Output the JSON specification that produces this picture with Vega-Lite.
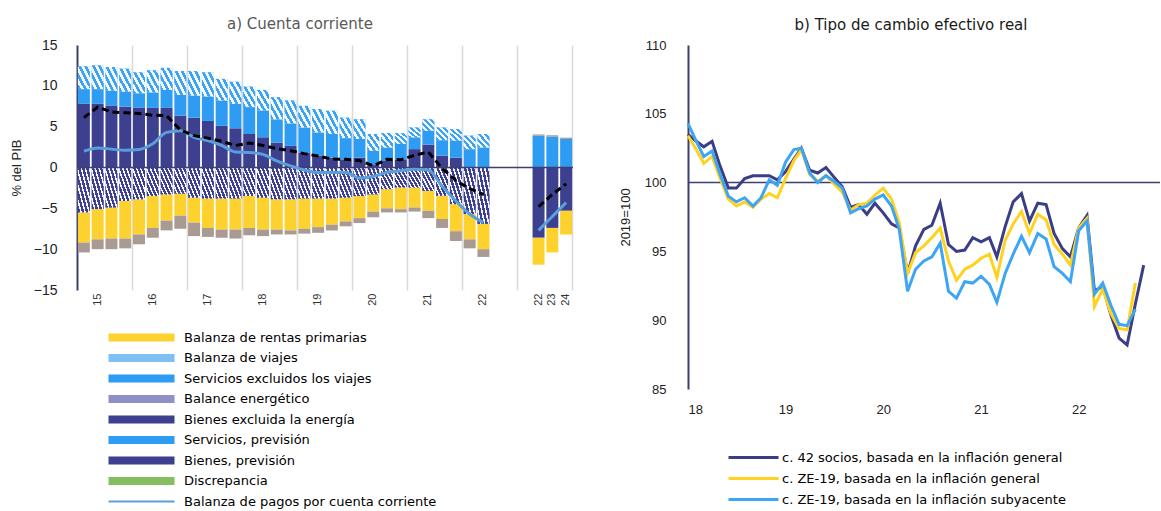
{
  "$schema": "https://vega.github.io/schema/vega-lite/v6.json",
  "background": "white",
  "padding": {"left": 10, "top": 17, "right": 0, "bottom": 0},
  "spacing": 45,
  "resolve": {"scale": {"color": "independent"}, "legend": {"color": "independent"}},
  "config": {
    "view": {"stroke": null},
    "font": "DejaVu Sans",
    "axis": {"labelFont": "Liberation Sans", "titleFont": "Liberation Sans", "titleFontWeight": "normal"},
    "legend": {"padding": 0, "labelFont": "DejaVu Sans", "labelLimit": 500}
  },
  "datasets": {
    "cuenta": [
      {"q": "2015Q1", "grp": "h", "1bien": 7.8, "4serv": 1.8, "7viaj": 2.8, "3ener": -5.5, "6rent": -3.7, "8rsec": -1.2, "cc": 2.0, "tot": 6.1},
      {"q": "2015Q2", "grp": "h", "1bien": 7.8, "4serv": 1.8, "7viaj": 2.9, "3ener": -5.1, "6rent": -3.7, "8rsec": -1.2, "cc": 2.4, "tot": 7.4},
      {"q": "2015Q3", "grp": "h", "1bien": 7.6, "4serv": 1.8, "7viaj": 2.9, "3ener": -4.9, "6rent": -3.8, "8rsec": -1.3, "cc": 2.25, "tot": 6.8},
      {"q": "2015Q4", "grp": "h", "1bien": 7.45, "4serv": 1.85, "7viaj": 2.8, "3ener": -4.1, "6rent": -4.6, "8rsec": -1.2, "cc": 2.1, "tot": 6.7},
      {"q": "2016Q1", "grp": "h", "1bien": 7.3, "4serv": 1.8, "7viaj": 2.55, "3ener": -3.9, "6rent": -4.3, "8rsec": -1.2, "cc": 2.2, "tot": 6.6},
      {"q": "2016Q2", "grp": "h", "1bien": 7.3, "4serv": 1.9, "7viaj": 2.7, "3ener": -3.5, "6rent": -3.9, "8rsec": -1.2, "cc": 2.9, "tot": 6.4},
      {"q": "2016Q3", "grp": "h", "1bien": 7.3, "4serv": 2.2, "7viaj": 2.7, "3ener": -3.3, "6rent": -3.2, "8rsec": -1.2, "cc": 4.3, "tot": 6.35},
      {"q": "2016Q4", "grp": "h", "1bien": 6.35, "4serv": 2.55, "7viaj": 2.9, "3ener": -3.2, "6rent": -2.7, "8rsec": -1.6, "cc": 4.5, "tot": 4.6},
      {"q": "2017Q1", "grp": "h", "1bien": 6.1, "4serv": 2.7, "7viaj": 3.0, "3ener": -3.7, "6rent": -3.05, "8rsec": -1.65, "cc": 3.7, "tot": 3.9},
      {"q": "2017Q2", "grp": "h", "1bien": 5.7, "4serv": 3.0, "7viaj": 2.95, "3ener": -3.8, "6rent": -3.6, "8rsec": -1.1, "cc": 3.3, "tot": 3.6},
      {"q": "2017Q3", "grp": "h", "1bien": 5.1, "4serv": 3.1, "7viaj": 2.65, "3ener": -3.8, "6rent": -3.8, "8rsec": -1.0, "cc": 2.7, "tot": 3.2},
      {"q": "2017Q4", "grp": "h", "1bien": 4.8, "4serv": 3.0, "7viaj": 2.7, "3ener": -3.8, "6rent": -3.8, "8rsec": -1.1, "cc": 1.9, "tot": 2.7},
      {"q": "2018Q1", "grp": "h", "1bien": 4.1, "4serv": 3.3, "7viaj": 2.5, "3ener": -3.5, "6rent": -3.9, "8rsec": -0.9, "cc": 1.85, "tot": 3.0},
      {"q": "2018Q2", "grp": "h", "1bien": 3.7, "4serv": 3.3, "7viaj": 2.5, "3ener": -3.7, "6rent": -3.9, "8rsec": -0.8, "cc": 1.6, "tot": 2.7},
      {"q": "2018Q3", "grp": "h", "1bien": 3.05, "4serv": 2.85, "7viaj": 2.7, "3ener": -3.9, "6rent": -3.7, "8rsec": -0.6, "cc": 0.8, "tot": 2.3},
      {"q": "2018Q4", "grp": "h", "1bien": 2.65, "4serv": 2.75, "7viaj": 2.8, "3ener": -3.9, "6rent": -3.8, "8rsec": -0.5, "cc": 0.2, "tot": 2.05},
      {"q": "2019Q1", "grp": "h", "1bien": 1.85, "4serv": 3.05, "7viaj": 2.65, "3ener": -3.8, "6rent": -3.7, "8rsec": -0.6, "cc": -0.3, "tot": 1.7},
      {"q": "2019Q2", "grp": "h", "1bien": 1.45, "4serv": 2.85, "7viaj": 2.85, "3ener": -3.8, "6rent": -3.5, "8rsec": -0.7, "cc": -0.6, "tot": 1.4},
      {"q": "2019Q3", "grp": "h", "1bien": 1.2, "4serv": 2.9, "7viaj": 2.85, "3ener": -3.8, "6rent": -3.2, "8rsec": -0.7, "cc": -0.6, "tot": 1.05},
      {"q": "2019Q4", "grp": "h", "1bien": 1.0, "4serv": 2.6, "7viaj": 2.5, "3ener": -3.7, "6rent": -2.9, "8rsec": -0.6, "cc": -0.6, "tot": 1.0},
      {"q": "2020Q1", "grp": "h", "1bien": 1.2, "4serv": 2.3, "7viaj": 2.4, "3ener": -3.5, "6rent": -2.7, "8rsec": -0.6, "cc": -1.3, "tot": 0.85},
      {"q": "2020Q2", "grp": "h", "1bien": 0.3, "4serv": 1.75, "7viaj": 2.05, "3ener": -3.3, "6rent": -2.1, "8rsec": -0.7, "cc": -1.1, "tot": 0.2},
      {"q": "2020Q3", "grp": "h", "1bien": 0.8, "4serv": 1.65, "7viaj": 1.75, "3ener": -2.65, "6rent": -2.35, "8rsec": -0.5, "cc": -0.6, "tot": 1.0},
      {"q": "2020Q4", "grp": "h", "1bien": 1.0, "4serv": 1.9, "7viaj": 1.3, "3ener": -2.45, "6rent": -2.65, "8rsec": -0.4, "cc": -0.4, "tot": 0.95},
      {"q": "2021Q1", "grp": "h", "1bien": 2.25, "4serv": 1.45, "7viaj": 1.2, "3ener": -2.45, "6rent": -2.45, "8rsec": -0.5, "cc": -0.2, "tot": 1.5},
      {"q": "2021Q2", "grp": "h", "1bien": 2.8, "4serv": 1.7, "7viaj": 1.4, "3ener": -2.86, "6rent": -2.44, "8rsec": -0.9, "cc": -0.3, "tot": 1.9},
      {"q": "2021Q3", "grp": "h", "1bien": 1.45, "4serv": 1.9, "7viaj": 1.55, "3ener": -3.47, "6rent": -2.83, "8rsec": -1.1, "cc": -2.3, "tot": -0.1},
      {"q": "2021Q4", "grp": "h", "1bien": 1.2, "4serv": 2.1, "7viaj": 1.4, "3ener": -4.49, "6rent": -3.31, "8rsec": -1.2, "cc": -4.1, "tot": -1.6},
      {"q": "2022Q1", "grp": "h", "1bien": 0, "4serv": 2.25, "7viaj": 1.65, "3ener": -5.7, "6rent": -3.1, "8rsec": -1.1, "cc": -5.7, "tot": -2.6},
      {"q": "2022Q2", "grp": "h", "1bien": 0, "4serv": 2.45, "7viaj": 1.65, "3ener": -6.9, "6rent": -3.1, "8rsec": -0.95, "cc": -6.75, "tot": -3.3},
      {"q": "2022A", "grp": "p", "5sprev": 3.9, "2bprev": -8.6, "6rent": -3.3, "8rsec": 0.15, "cc": -7.7, "tot": -4.8},
      {"q": "2023A", "grp": "p", "5sprev": 3.8, "2bprev": -7.4, "6rent": -3.0, "8rsec": 0.15, "cc": -6.0, "tot": -3.3},
      {"q": "2024A", "grp": "p", "5sprev": 3.5, "2bprev": -5.3, "6rent": -2.9, "8rsec": 0.15, "cc": -4.3, "tot": -2.0}
    ],
    "tcer": [
      {"fecha": "2018-01-01", "s42": 103.5, "zeg": 103.4, "zes": 104.3},
      {"fecha": "2018-02-01", "s42": 103.0, "zeg": 102.4, "zes": 103.0},
      {"fecha": "2018-03-01", "s42": 102.6, "zeg": 101.4, "zes": 101.9},
      {"fecha": "2018-04-01", "s42": 103.0, "zeg": 101.9, "zes": 102.3},
      {"fecha": "2018-05-01", "s42": 101.2, "zeg": 100.3, "zes": 100.6},
      {"fecha": "2018-06-01", "s42": 99.6, "zeg": 98.8, "zes": 99.0},
      {"fecha": "2018-07-01", "s42": 99.6, "zeg": 98.3, "zes": 98.6},
      {"fecha": "2018-08-01", "s42": 100.3, "zeg": 98.6, "zes": 98.9},
      {"fecha": "2018-09-01", "s42": 100.5, "zeg": 98.2, "zes": 98.3},
      {"fecha": "2018-10-01", "s42": 100.5, "zeg": 98.8, "zes": 98.9},
      {"fecha": "2018-11-01", "s42": 100.5, "zeg": 99.2, "zes": 100.2},
      {"fecha": "2018-12-01", "s42": 100.2, "zeg": 98.9, "zes": 99.8},
      {"fecha": "2019-01-01", "s42": 100.8, "zeg": 100.3, "zes": 101.5},
      {"fecha": "2019-02-01", "s42": 101.7, "zeg": 101.6, "zes": 102.4},
      {"fecha": "2019-03-01", "s42": 102.5, "zeg": 102.4, "zes": 102.5},
      {"fecha": "2019-04-01", "s42": 100.9, "zeg": 100.6, "zes": 100.7},
      {"fecha": "2019-05-01", "s42": 100.7, "zeg": 100.1, "zes": 100.0},
      {"fecha": "2019-06-01", "s42": 101.1, "zeg": 100.5, "zes": 100.5},
      {"fecha": "2019-07-01", "s42": 100.4, "zeg": 99.9, "zes": 100.1},
      {"fecha": "2019-08-01", "s42": 99.7, "zeg": 99.3, "zes": 99.6},
      {"fecha": "2019-09-01", "s42": 98.2, "zeg": 98.0, "zes": 97.8},
      {"fecha": "2019-10-01", "s42": 98.4, "zeg": 98.4, "zes": 98.1},
      {"fecha": "2019-11-01", "s42": 97.7, "zeg": 98.5, "zes": 98.3},
      {"fecha": "2019-12-01", "s42": 98.5, "zeg": 99.1, "zes": 98.8},
      {"fecha": "2020-01-01", "s42": 97.8, "zeg": 99.6, "zes": 99.1},
      {"fecha": "2020-02-01", "s42": 97.0, "zeg": 98.8, "zes": 98.3},
      {"fecha": "2020-03-01", "s42": 96.7, "zeg": 97.1, "zes": 96.6},
      {"fecha": "2020-04-01", "s42": 93.4, "zeg": 93.4, "zes": 92.1},
      {"fecha": "2020-05-01", "s42": 95.4, "zeg": 94.9, "zes": 93.7},
      {"fecha": "2020-06-01", "s42": 96.6, "zeg": 95.4, "zes": 94.3},
      {"fecha": "2020-07-01", "s42": 96.9, "zeg": 96.0, "zes": 94.6},
      {"fecha": "2020-08-01", "s42": 98.5, "zeg": 96.7, "zes": 95.6},
      {"fecha": "2020-09-01", "s42": 95.5, "zeg": 94.3, "zes": 92.1},
      {"fecha": "2020-10-01", "s42": 95.0, "zeg": 92.9, "zes": 91.6},
      {"fecha": "2020-11-01", "s42": 95.1, "zeg": 93.7, "zes": 92.8},
      {"fecha": "2020-12-01", "s42": 96.0, "zeg": 94.0, "zes": 92.7},
      {"fecha": "2021-01-01", "s42": 95.7, "zeg": 94.5, "zes": 93.2},
      {"fecha": "2021-02-01", "s42": 96.0, "zeg": 94.8, "zes": 92.6},
      {"fecha": "2021-03-01", "s42": 94.6, "zeg": 93.1, "zes": 91.3},
      {"fecha": "2021-04-01", "s42": 96.8, "zeg": 95.8, "zes": 93.4},
      {"fecha": "2021-05-01", "s42": 98.6, "zeg": 97.0, "zes": 94.8},
      {"fecha": "2021-06-01", "s42": 99.2, "zeg": 97.9, "zes": 96.1},
      {"fecha": "2021-07-01", "s42": 97.2, "zeg": 96.3, "zes": 94.9},
      {"fecha": "2021-08-01", "s42": 98.5, "zeg": 97.7, "zes": 96.3},
      {"fecha": "2021-09-01", "s42": 98.4, "zeg": 97.3, "zes": 95.9},
      {"fecha": "2021-10-01", "s42": 96.3, "zeg": 95.5, "zes": 93.9},
      {"fecha": "2021-11-01", "s42": 95.2, "zeg": 94.8, "zes": 93.4},
      {"fecha": "2021-12-01", "s42": 94.6, "zeg": 94.0, "zes": 92.8},
      {"fecha": "2022-01-01", "s42": 96.7, "zeg": 96.7, "zes": 96.5},
      {"fecha": "2022-02-01", "s42": 97.6, "zeg": 97.4, "zes": 97.2},
      {"fecha": "2022-03-01", "s42": 92.1, "zeg": 91.0, "zes": 91.9},
      {"fecha": "2022-04-01", "s42": 92.5, "zeg": 92.3, "zes": 92.7},
      {"fecha": "2022-05-01", "s42": 90.4, "zeg": 90.5, "zes": 91.1},
      {"fecha": "2022-06-01", "s42": 88.7, "zeg": 89.4, "zes": 89.7},
      {"fecha": "2022-07-01", "s42": 88.2, "zeg": 89.3, "zes": 89.6},
      {"fecha": "2022-08-01", "s42": 91.2, "zeg": 92.7, "zes": 90.8},
      {"fecha": "2022-09-01", "s42": 94.0}
    ]
  },
  "hconcat": [
    {
      "width": 496,
      "height": 245,
      "title": {"text": "a) Cuenta corriente", "fontSize": 15, "fontWeight": "normal", "color": "#595959", "font": "DejaVu Sans", "dx": -25, "offset": 6},
      "data": {"name": "cuenta"},
      "resolve": {"axis": {"x": "independent"}},
      "layer": [
        {
          "transform": [
            {"fold": ["1bien", "2bprev", "3ener", "4serv", "5sprev", "6rent", "7viaj", "8rsec"], "as": ["series", "value"]},
            {"filter": "isValid(datum.value)"}
          ],
          "mark": {"type": "bar"},
          "encoding": {
            "x": {
              "field": "q", "type": "nominal", "title": null,
              "scale": {
                "domain": ["2015Q1","2015Q2","2015Q3","2015Q4","2016Q1","2016Q2","2016Q3","2016Q4","2017Q1","2017Q2","2017Q3","2017Q4","2018Q1","2018Q2","2018Q3","2018Q4","2019Q1","2019Q2","2019Q3","2019Q4","2020Q1","2020Q2","2020Q3","2020Q4","2021Q1","2021Q2","2021Q3","2021Q4","2022Q1","2022Q2","2022Q3","2022Q4","gap","2022A","2023A","2024A"],
                "paddingInner": 0.13, "paddingOuter": 0.065
              },
              "axis": {
                "values": ["2015Q2","2016Q2","2017Q2","2018Q2","2019Q2","2020Q2","2021Q2","2022Q2","2022A","2023A","2024A"],
                "labelExpr": "substring(datum.value, 2, 4)",
                "labelAngle": 270, "labelFontSize": 11, "labelColor": "#333333", "labelPadding": 3,
                "ticks": false, "domain": false, "grid": false
              }
            },
            "y": {
              "field": "value", "type": "quantitative", "stack": "zero", "title": "% del PIB",
              "scale": {"domain": [-15, 15], "nice": false, "zero": false},
              "axis": {"values": [-15, -10, -5, 0, 5, 10, 15], "grid": false, "ticks": false, "domainColor": "#3D3F6E", "domainWidth": 2, "labelFontSize": 14, "labelColor": "#222222", "labelPadding": 20, "titleFontSize": 13, "titleColor": "#222222", "titlePadding": 10}
            },
            "color": {
              "field": "series", "type": "nominal",
              "scale": {
                "domain": ["6rent", "7viaj", "4serv", "3ener", "1bien", "5sprev", "2bprev", "9disc", "cc", "8rsec"],
                "range": ["#FDD22E", "#7FC0F4", "#2D9CF2", "#8E90C6", "#3D3F8F", "#2D9CF2", "#3D3F8F", "#86BE5F", "#5A9FDC", "#A99B93"]
              },
              "legend": {
                "orient": "none", "legendX": 30, "legendY": 286, "title": null, "direction": "vertical",
                "values": ["6rent", "7viaj", "4serv", "3ener", "1bien", "5sprev", "2bprev", "9disc", "cc"],
                "labelExpr": "{'6rent': 'Balanza de rentas primarias', '7viaj': 'Balanza de viajes', '4serv': 'Servicios excluidos los viajes', '3ener': 'Balance energético', '1bien': 'Bienes excluida la energía', '5sprev': 'Servicios, previsión', '2bprev': 'Bienes, previsión', '9disc': 'Discrepancia', 'cc': 'Balanza de pagos por cuenta corriente'}[datum.value]",
                "labelFontSize": 13, "labelColor": "#000000",
                "symbolType": "M-6.6,-0.8H6.6V0.8H-6.6Z", "symbolSize": 100, "symbolOffset": 28, "labelOffset": 36, "rowPadding": 6.5, "symbolStrokeWidth": 0,
                "encode": {"symbols": {"update": {
                  "shape": [{"test": "datum.value === 'cc'", "value": "M-6.6,-0.2H6.6V0.2H-6.6Z"}, {"value": "M-6.6,-0.8H6.6V0.8H-6.6Z"}]
                }}}
              }
            },
            "order": {"field": "series", "type": "ordinal", "sort": "ascending"}
          }
        },
        {
          "transform": [
            {"fold": ["1bien", "2bprev", "3ener", "4serv", "5sprev", "6rent", "7viaj", "8rsec"], "as": ["series", "value"]},
            {"filter": "isValid(datum.value)"}
          ],
          "mark": {
            "type": "bar",
            "fill": {"gradient": "linear", "x1": 0, "y1": 1, "x2": 1, "y2": 0, "stops": [
              {"offset": 0, "color": "#3DA2F2"}, {"offset": 0.125, "color": "#3DA2F2"}, {"offset": 0.125, "color": "#F2F8FE"}, {"offset": 0.25, "color": "#F2F8FE"},
              {"offset": 0.25, "color": "#3DA2F2"}, {"offset": 0.375, "color": "#3DA2F2"}, {"offset": 0.375, "color": "#F2F8FE"}, {"offset": 0.5, "color": "#F2F8FE"},
              {"offset": 0.5, "color": "#3DA2F2"}, {"offset": 0.625, "color": "#3DA2F2"}, {"offset": 0.625, "color": "#F2F8FE"}, {"offset": 0.75, "color": "#F2F8FE"},
              {"offset": 0.75, "color": "#3DA2F2"}, {"offset": 0.875, "color": "#3DA2F2"}, {"offset": 0.875, "color": "#F2F8FE"}, {"offset": 1, "color": "#F2F8FE"}
            ]}
          },
          "encoding": {
            "x": {
              "field": "q", "type": "nominal", "title": null,
              "axis": {
                "orient": "top", "values": ["2015Q4","2016Q4","2017Q4","2018Q4","2019Q4","2020Q4","2021Q4","2022Q4","2024A"],
                "bandPosition": 1.07, "grid": true, "gridColor": "#D9D9D9", "gridWidth": 1.5,
                "labels": false, "ticks": false, "domain": false
              }
            },
            "y": {"field": "value", "type": "quantitative", "stack": "zero", "title": "% del PIB"},
            "detail": {"field": "series"},
            "order": {"field": "series", "type": "ordinal", "sort": "ascending"},
            "fillOpacity": {"condition": {"test": "datum.series === '7viaj'", "value": 1}, "value": 0}
          }
        },
        {
          "transform": [
            {"fold": ["1bien", "2bprev", "3ener", "4serv", "5sprev", "6rent", "7viaj", "8rsec"], "as": ["series", "value"]},
            {"filter": "isValid(datum.value)"}
          ],
          "mark": {
            "type": "bar",
            "fill": {"gradient": "linear", "x1": 0, "y1": 1, "x2": 1, "y2": 0, "stops": [
              {"offset": 0, "color": "#3D3F8F"}, {"offset": 0.1, "color": "#3D3F8F"}, {"offset": 0.1, "color": "#F4F4FA"}, {"offset": 0.1667, "color": "#F4F4FA"},
              {"offset": 0.1667, "color": "#3D3F8F"}, {"offset": 0.2667, "color": "#3D3F8F"}, {"offset": 0.2667, "color": "#F4F4FA"}, {"offset": 0.3333, "color": "#F4F4FA"},
              {"offset": 0.3333, "color": "#3D3F8F"}, {"offset": 0.4333, "color": "#3D3F8F"}, {"offset": 0.4333, "color": "#F4F4FA"}, {"offset": 0.5, "color": "#F4F4FA"},
              {"offset": 0.5, "color": "#3D3F8F"}, {"offset": 0.6, "color": "#3D3F8F"}, {"offset": 0.6, "color": "#F4F4FA"}, {"offset": 0.6667, "color": "#F4F4FA"},
              {"offset": 0.6667, "color": "#3D3F8F"}, {"offset": 0.7667, "color": "#3D3F8F"}, {"offset": 0.7667, "color": "#F4F4FA"}, {"offset": 0.8333, "color": "#F4F4FA"},
              {"offset": 0.8333, "color": "#3D3F8F"}, {"offset": 0.9333, "color": "#3D3F8F"}, {"offset": 0.9333, "color": "#F4F4FA"}, {"offset": 1, "color": "#F4F4FA"}
            ]}
          },
          "encoding": {
            "x": {"field": "q", "type": "nominal", "axis": null},
            "y": {"field": "value", "type": "quantitative", "stack": "zero", "title": "% del PIB"},
            "detail": {"field": "series"},
            "order": {"field": "series", "type": "ordinal", "sort": "ascending"},
            "fillOpacity": {"condition": {"test": "datum.series === '3ener'", "value": 1}, "value": 0}
          }
        },
        {
          "data": {"values": [{}]},
          "mark": {"type": "rule", "color": "#3D3F6E", "strokeWidth": 1.5},
          "encoding": {"y": {"datum": 0, "title": "% del PIB"}}
        },
        {
          "mark": {"type": "line", "color": "#5A9FDC", "strokeWidth": 3, "interpolate": "monotone"},
          "encoding": {
            "x": {"field": "q", "type": "nominal", "axis": null},
            "y": {"field": "cc", "type": "quantitative", "title": "% del PIB"},
            "detail": {"field": "grp"}
          }
        },
        {
          "mark": {"type": "line", "color": "#000000", "strokeWidth": 3, "strokeDash": [7, 4]},
          "encoding": {
            "x": {"field": "q", "type": "nominal", "axis": null},
            "y": {"field": "tot", "type": "quantitative", "title": "% del PIB"},
            "detail": {"field": "grp"}
          }
        }
      ]
    },
    {
      "width": 472,
      "height": 344,
      "title": {"text": "b) Tipo de cambio efectivo real", "fontSize": 15, "fontWeight": "normal", "color": "#1A1A1A", "font": "DejaVu Sans", "dx": -13, "offset": 6},
      "layer": [
        {
          "data": {"values": [{}]},
          "mark": {"type": "rule", "color": "#3D3F6E", "strokeWidth": 1.5},
          "encoding": {"y": {"datum": 100, "title": "2019=100", "scale": {"domain": [85, 110], "nice": false, "zero": false}}}
        },
        {
          "data": {"name": "tcer"},
          "transform": [
            {"fold": ["s42", "zeg", "zes"], "as": ["serie", "valor"]},
            {"filter": "isValid(datum.valor)"}
          ],
          "mark": {"type": "line", "strokeWidth": 3},
          "encoding": {
            "x": {
              "field": "fecha", "type": "temporal", "title": null,
              "scale": {"type": "utc", "domain": [{"year": 2018, "month": 1, "date": 1, "utc": true}, {"year": 2022, "month": 11, "date": 1, "utc": true}]},
              "axis": {
                "values": [{"year": 2018, "month": 1, "date": 1, "utc": true}, {"year": 2019, "month": 1, "date": 1, "utc": true}, {"year": 2020, "month": 1, "date": 1, "utc": true}, {"year": 2021, "month": 1, "date": 1, "utc": true}, {"year": 2022, "month": 1, "date": 1, "utc": true}],
                "labelExpr": "utcFormat(datum.value, '%y')",
                "domain": false, "ticks": false, "grid": false, "labelFontSize": 13, "labelColor": "#222222", "labelPadding": 14
              }
            },
            "y": {
              "field": "valor", "type": "quantitative", "title": "2019=100",
              "scale": {"domain": [85, 110], "nice": false, "zero": false},
              "axis": {"values": [85, 90, 95, 100, 105, 110], "grid": false, "ticks": false, "domainColor": "#3D3F6E", "domainWidth": 2, "labelFontSize": 13, "labelColor": "#222222", "labelPadding": 22, "titleFontSize": 13, "titleColor": "#222222", "titlePadding": 12}
            },
            "color": {
              "field": "serie", "type": "nominal",
              "scale": {"domain": ["s42", "zeg", "zes"], "range": ["#3B3E85", "#FFD21F", "#3DA5F4"]},
              "legend": {
                "orient": "none", "legendX": 39, "legendY": 406, "title": null, "direction": "vertical",
                "labelExpr": "{'s42': 'c. 42 socios, basada en la inflación general', 'zeg': 'c. ZE-19, basada en la inflación general', 'zes': 'c. ZE-19, basada en la inflación subyacente'}[datum.value]",
                "labelFontSize": 13, "labelColor": "#000000",
                "symbolType": "M-5,0H5", "symbolSize": 100, "symbolStrokeWidth": 3, "symbolOffset": 20, "labelOffset": 22, "rowPadding": 7
              }
            }
          }
        }
      ]
    }
  ]
}
